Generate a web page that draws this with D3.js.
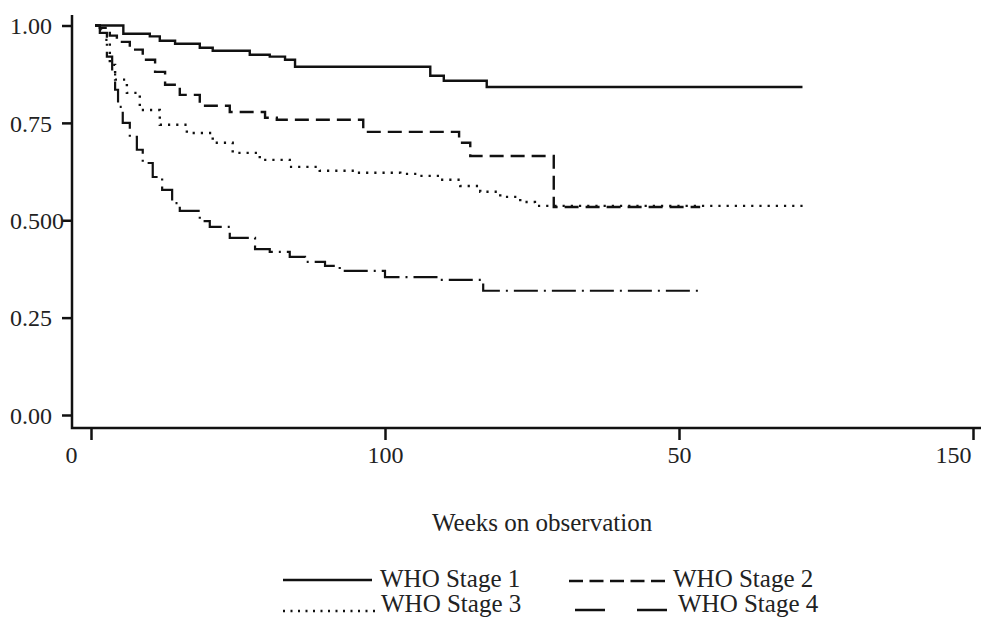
<!DOCTYPE html>
<html>
<head>
<meta charset="utf-8">
<title>Survival by WHO stage</title>
<script src="https://d3js.org/d3.v7.min.js"></script>
<style>
  body { margin: 0; background: #fff; }
  svg text { font-family: "Liberation Serif", serif; fill: #222; }
</style>
</head>
<body>
<div id="chart"></div>
<script>
// tick values and the labels printed under them (as in the original figure)
var xTickValues = [0, 50, 100, 150]
var xTickLabels = ["0", "100", "50", "150"]
var yTickValues = [1, 0.75, 0.5, 0.25, 0]
var yTickLabels = ["1.00", "0.75", "0.500", "0.25", "0.00"]

var seriesNames = ["WHO Stage 1", "WHO Stage 2", "WHO Stage 3", "WHO Stage 4"]

// Kaplan-Meier steps: week where the step starts, survival after it
var stage1Weeks = [0.7, 5.5, 10, 11.7, 14.3, 18.5, 20.7, 27, 30.4, 33, 34.7, 57.7, 60, 67.3, 121]
var stage1Surv  = [1.0, 0.979, 0.972, 0.961, 0.953, 0.943, 0.935, 0.925, 0.92, 0.912, 0.894, 0.871, 0.858, 0.842, 0.842]

var stage2Weeks = [0.7, 1.5, 3.2, 4.4, 6.6, 8.8, 10.9, 12.6, 15.1, 18.5, 23.6, 29.6, 31.6, 46.3, 62.6, 64.5, 78.7, 103.6]
var stage2Surv  = [1.0, 0.994, 0.974, 0.958, 0.938, 0.912, 0.881, 0.848, 0.822, 0.794, 0.778, 0.763, 0.758, 0.727, 0.699, 0.665, 0.534, 0.534]

var stage3Weeks = [0.7, 1.7, 2.4, 3.2, 4.1, 6.1, 8.3, 11.7, 16.3, 20.7, 24.1, 28.7, 33.8, 38.9, 44.9, 52.6, 56, 59.4, 62.8, 66.2, 69.6, 73, 75.5, 122]
var stage3Surv  = [1.0, 0.989, 0.963, 0.899, 0.861, 0.827, 0.783, 0.745, 0.724, 0.699, 0.673, 0.655, 0.637, 0.627, 0.622, 0.619, 0.614, 0.604, 0.588, 0.573, 0.56, 0.547, 0.537, 0.537]

var stage4Weeks = [0.7, 1.5, 2.7, 3.6, 4.1, 4.6, 5.4, 6.6, 7.8, 8.8, 10.5, 12.1, 13.8, 15.1, 18.5, 20.2, 23.6, 27.9, 30.4, 33.8, 36.4, 39.8, 42.3, 50, 59.4, 66.7, 104.1]
var stage4Surv  = [1.0, 0.981, 0.92, 0.881, 0.835, 0.791, 0.75, 0.714, 0.681, 0.647, 0.611, 0.578, 0.544, 0.524, 0.498, 0.483, 0.455, 0.426, 0.419, 0.406, 0.393, 0.383, 0.37, 0.354, 0.347, 0.319, 0.319]

var width = 981, height = 619

var svg = d3.select("#chart")
    .append("svg")
    .attr("width", width)
    .attr("height", height)

// scales
var x = d3.scaleLinear().domain([0, 150]).range([91, 973])
var y = d3.scaleLinear().domain([0, 1]).range([415, 25.5])

var ink = "#111"

// y axis (labels are left aligned in the original)
var yAxis = svg.append("g")
    .attr("transform", "translate(72,0)")
    .call(d3.axisLeft(y).tickValues(yTickValues).tickSize(10)
        .tickFormat(function (d, i) { return yTickLabels[i] }))
yAxis.select(".domain").remove()
yAxis.selectAll(".tick line").attr("stroke", ink).attr("stroke-width", 2.5)
yAxis.selectAll(".tick text")
    .attr("x", -62)
    .attr("dy", "0.34em")
    .attr("text-anchor", "start")
    .style("font-size", "24px")
    .style("font-family", "Liberation Serif")
    .attr("fill", "#222")

// x axis
var xAxis = svg.append("g")
    .attr("transform", "translate(0,428)")
    .call(d3.axisBottom(x).tickValues(xTickValues).tickSize(12)
        .tickFormat(function (d, i) { return xTickLabels[i] }))
xAxis.select(".domain").remove()
xAxis.selectAll(".tick line").attr("stroke", ink).attr("stroke-width", 2.5)
xAxis.selectAll(".tick text")
    .attr("y", 35)
    .attr("dy", 0)
    .attr("dx", function (d, i) { return (i === 0 || i === xTickValues.length - 1) ? -20 : 0 })
    .style("font-size", "24px")
    .style("font-family", "Liberation Serif")
    .attr("fill", "#222")

// axis lines, the y one runs a bit above 1.00
svg.append("path")
    .attr("d", "M72,15V428H981")
    .attr("fill", "none")
    .attr("stroke", ink)
    .attr("stroke-width", 2.5)

// axis title
svg.append("text")
    .attr("x", 432)
    .attr("y", 531)
    .style("font-size", "25px")
    .text("Weeks on observation")

// curves
var line = d3.line()
    .x(function (d) { return x(d[0]) })
    .y(function (d) { return y(d[1]) })
    .curve(d3.curveStepAfter)

var curves = [
    { w: stage1Weeks, s: stage1Surv, dash: null, sw: 2.4 },
    { w: stage2Weeks, s: stage2Surv, dash: "14,7", sw: 2.4 },
    { w: stage3Weeks, s: stage3Surv, dash: "2.2,6", sw: 2.4 },
    { w: stage4Weeks, s: stage4Surv, dash: "24,6,2,6", sw: 2.2 }
]

curves.forEach(function (c) {
    var pts = d3.zip(c.w, c.s)
    svg.append("path")
        .datum(pts)
        .attr("fill", "none")
        .attr("stroke", ink)
        .attr("stroke-width", c.sw)
        .attr("stroke-dasharray", c.dash)
        .attr("d", line)
})

// legend, two rows two columns
var legend = [
    { x1: 283, x2: 372, ly: 580, tx: 380, ty: 587, dash: null },
    { x1: 569, x2: 665, ly: 581, tx: 673, ty: 587, dash: "14,6.5" },
    { x1: 283, x2: 379, ly: 611, tx: 381, ty: 612, dash: "2,5.5" },
    { x1: 575, x2: 667, ly: 610, tx: 678, ty: 612, dash: "30,32" }
]

legend.forEach(function (l, i) {
    svg.append("line")
        .attr("x1", l.x1).attr("x2", l.x2)
        .attr("y1", l.ly).attr("y2", l.ly)
        .attr("stroke", ink)
        .attr("stroke-width", 2.5)
        .attr("stroke-dasharray", l.dash)
    svg.append("text")
        .attr("x", l.tx)
        .attr("y", l.ty)
        .style("font-size", "25px")
        .text(seriesNames[i])
})
</script>
</body>
</html>
